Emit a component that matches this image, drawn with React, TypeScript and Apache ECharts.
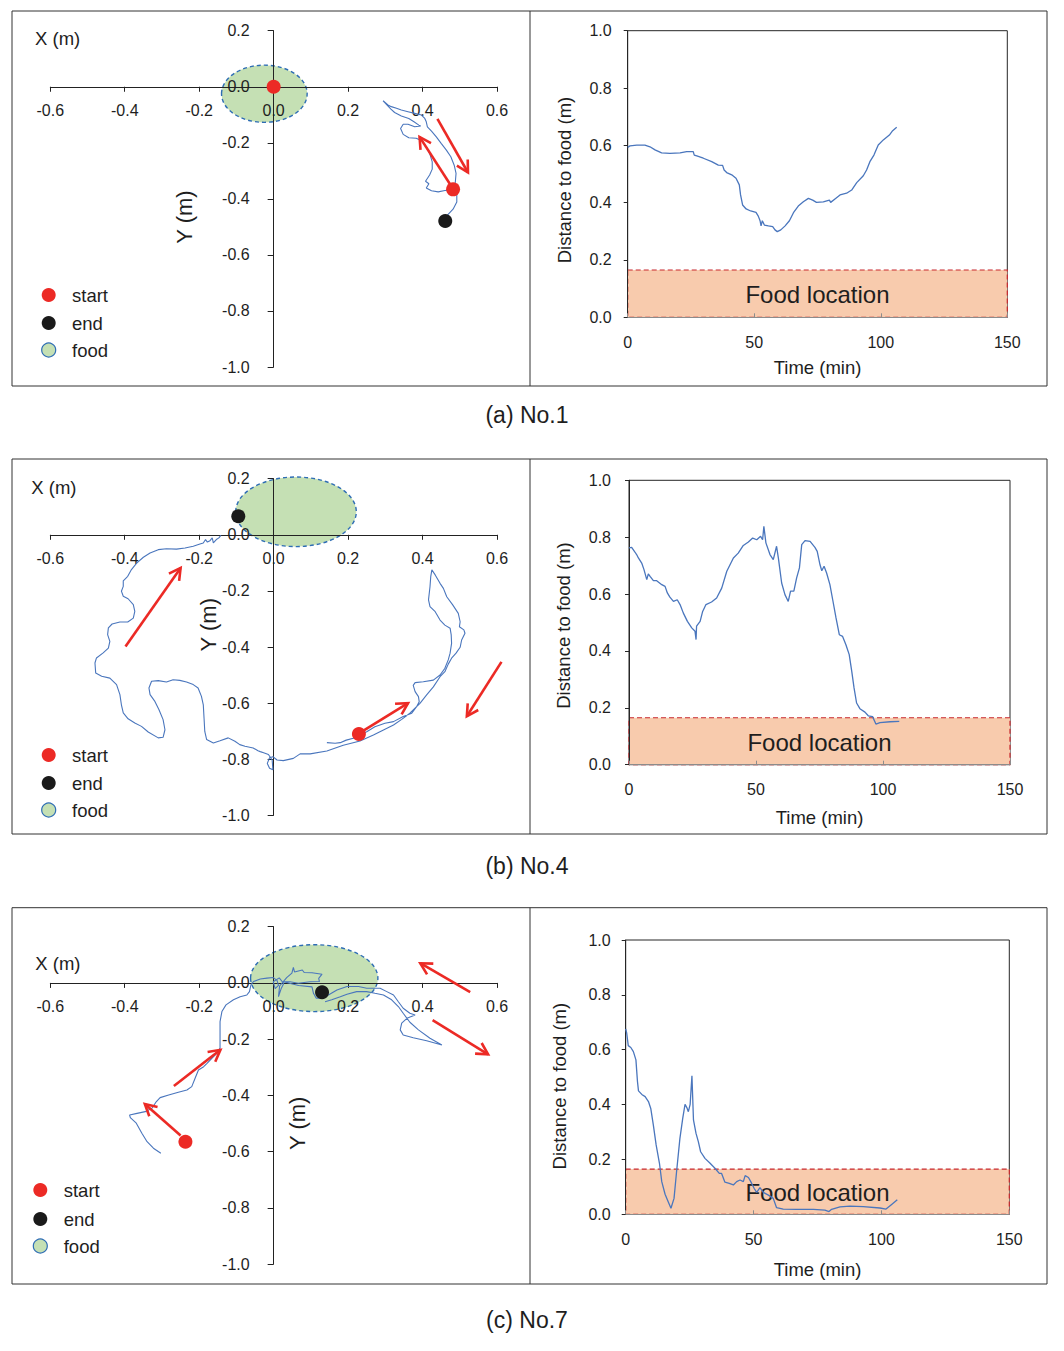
import React, { useEffect, useRef } from "react";
import * as echarts from "echarts";

// ---------- DATA (metres / minutes) ----------
// Panel (a) No.1 trajectory (X, Y in m)
const trackA: number[][] = [
  [0.482, -0.366], [0.488, -0.341], [0.49, -0.309], [0.485, -0.28], [0.476, -0.25], [0.464, -0.226],
  [0.45, -0.202], [0.437, -0.179], [0.424, -0.158], [0.413, -0.143], [0.41, -0.125], [0.406, -0.113],
  [0.397, -0.101], [0.379, -0.095], [0.361, -0.089], [0.343, -0.083], [0.33, -0.077], [0.316, -0.071],
  [0.307, -0.065], [0.294, -0.05], [0.315, -0.08], [0.325, -0.092], [0.343, -0.104], [0.363, -0.113],
  [0.377, -0.125], [0.39, -0.137], [0.395, -0.14], [0.379, -0.143], [0.361, -0.134], [0.348, -0.134],
  [0.341, -0.149], [0.348, -0.17], [0.363, -0.182], [0.383, -0.184], [0.399, -0.194], [0.41, -0.214],
  [0.419, -0.238], [0.426, -0.268], [0.426, -0.294], [0.419, -0.315], [0.408, -0.337], [0.417, -0.346],
  [0.41, -0.361], [0.424, -0.371], [0.442, -0.375], [0.46, -0.37], [0.476, -0.369], [0.492, -0.384],
  [0.492, -0.411], [0.482, -0.437], [0.468, -0.456], [0.461, -0.476],
];
const startA: number[][] = [[0, 0], [0.482, -0.366]];
const endA: number[][] = [[0.461, -0.479]];
const foodA: number[][] = [[-0.025, -0.025, 0.115, 0.102]]; // cx, cy, rx, ry
const arrowsA: number[][] = [
  [0.44, -0.115, 0.522, -0.306],
  [0.477, -0.354, 0.392, -0.179],
];
const distA: number[][] = [
  [0, 0.593], [0.9, 0.598], [3.6, 0.601], [6.8, 0.601], [8.8, 0.595], [10.8, 0.584], [13.4, 0.574],
  [16.7, 0.572], [20.7, 0.574], [23.3, 0.578], [25.9, 0.578], [26.3, 0.566], [27.3, 0.563], [29.9, 0.555],
  [33.2, 0.543], [35.8, 0.531], [37.5, 0.53], [38.1, 0.514], [39.1, 0.505], [41.1, 0.497], [42.8, 0.485],
  [44.1, 0.462], [44.6, 0.427], [45.4, 0.392], [46.8, 0.378], [48.6, 0.371], [50.7, 0.366], [51.6, 0.353],
  [52.3, 0.337], [52.7, 0.319], [53.2, 0.337], [54.0, 0.322], [55.6, 0.319], [57.3, 0.316], [58.2, 0.305],
  [59.1, 0.299], [60.5, 0.305], [62.2, 0.319], [63.9, 0.337], [65.5, 0.365], [67.4, 0.388], [69.4, 0.403],
  [71.4, 0.415], [73.1, 0.409], [74.6, 0.401], [77.3, 0.403], [79.7, 0.409], [80.2, 0.401], [81.9, 0.413],
  [83.9, 0.427], [86.5, 0.433], [88.5, 0.444], [90.5, 0.47], [93.1, 0.494], [94.4, 0.514], [95.7, 0.543],
  [97.3, 0.566], [99.0, 0.601], [101.0, 0.619], [103.4, 0.636], [104.7, 0.651], [106.3, 0.663],
];

// Panel (b) No.4
const trackB: number[][] = [
  [0.143, -0.741], [0.165, -0.743], [0.179, -0.741], [0.195, -0.732], [0.214, -0.725], [0.232, -0.714],
  [0.25, -0.702], [0.272, -0.684], [0.299, -0.672], [0.322, -0.666], [0.348, -0.648], [0.371, -0.636],
  [0.384, -0.613], [0.391, -0.595], [0.389, -0.577], [0.38, -0.559], [0.375, -0.537], [0.38, -0.527],
  [0.402, -0.524], [0.429, -0.518], [0.447, -0.5], [0.46, -0.476], [0.469, -0.446], [0.474, -0.422],
  [0.478, -0.387], [0.477, -0.357], [0.474, -0.333], [0.46, -0.322], [0.447, -0.304], [0.434, -0.274],
  [0.42, -0.256], [0.416, -0.232], [0.42, -0.185], [0.422, -0.149], [0.425, -0.125],
  [0.434, -0.143], [0.447, -0.173], [0.456, -0.191], [0.465, -0.221], [0.481, -0.25], [0.496, -0.28],
  [0.501, -0.31], [0.499, -0.328], [0.511, -0.339], [0.514, -0.351], [0.505, -0.375], [0.501, -0.401],
  [0.49, -0.422], [0.478, -0.44], [0.469, -0.461], [0.46, -0.488], [0.447, -0.506], [0.429, -0.542],
  [0.411, -0.571], [0.393, -0.601], [0.366, -0.636], [0.344, -0.658], [0.322, -0.678], [0.295, -0.696],
  [0.268, -0.714], [0.232, -0.735], [0.187, -0.75], [0.143, -0.771], [0.098, -0.781], [0.071, -0.781],
  [0.053, -0.797], [0.026, -0.805], [0.009, -0.803], [-0.002, -0.791], [-0.011, -0.795], [-0.017, -0.815],
  [-0.011, -0.832], [-0.002, -0.838], [-0.004, -0.803], [-0.014, -0.783], [-0.027, -0.777], [-0.036, -0.773],
  [-0.042, -0.77], [-0.055, -0.76], [-0.077, -0.754], [-0.091, -0.748], [-0.104, -0.736], [-0.122, -0.724],
  [-0.144, -0.734], [-0.162, -0.742], [-0.18, -0.73], [-0.185, -0.701], [-0.187, -0.653], [-0.189, -0.606],
  [-0.194, -0.576], [-0.203, -0.546], [-0.216, -0.534], [-0.234, -0.525], [-0.252, -0.519], [-0.27, -0.517],
  [-0.288, -0.525], [-0.31, -0.52], [-0.328, -0.522], [-0.335, -0.546], [-0.332, -0.57], [-0.319, -0.594],
  [-0.308, -0.624], [-0.297, -0.659], [-0.292, -0.695], [-0.297, -0.722], [-0.31, -0.724], [-0.337, -0.703],
  [-0.355, -0.683], [-0.373, -0.671], [-0.391, -0.656], [-0.404, -0.635], [-0.409, -0.606], [-0.413, -0.57],
  [-0.422, -0.534], [-0.44, -0.511], [-0.462, -0.504], [-0.478, -0.493], [-0.48, -0.457], [-0.476, -0.439],
  [-0.458, -0.421], [-0.444, -0.404], [-0.44, -0.38], [-0.446, -0.356], [-0.444, -0.332], [-0.434, -0.318],
  [-0.413, -0.311], [-0.392, -0.311], [-0.377, -0.297], [-0.373, -0.273], [-0.377, -0.249], [-0.391, -0.228],
  [-0.404, -0.219], [-0.409, -0.201], [-0.404, -0.184], [-0.404, -0.164], [-0.392, -0.148], [-0.382, -0.124],
  [-0.368, -0.101], [-0.35, -0.08], [-0.332, -0.065], [-0.31, -0.053], [-0.288, -0.05], [-0.261, -0.051],
  [-0.238, -0.047], [-0.216, -0.041], [-0.198, -0.033], [-0.189, -0.029], [-0.183, -0.017], [-0.178, -0.026],
  [-0.171, -0.021], [-0.165, -0.011], [-0.162, -0.029], [-0.154, -0.017], [-0.147, -0.011], [-0.142, -0.002],
];
const startB: number[][] = [[0.229, -0.71]];
const endB: number[][] = [[-0.095, 0.066]];
const foodB: number[][] = [[0.06, 0.082, 0.162, 0.124]];
const arrowsB: number[][] = [
  [-0.398, -0.398, -0.25, -0.118],
  [0.238, -0.701, 0.361, -0.6],
  [0.612, -0.453, 0.519, -0.647],
];
const distB: number[][] = [
  [0, 0.762], [1.05, 0.764], [2.4, 0.747], [3.0, 0.739], [3.7, 0.727], [5.0, 0.709], [5.9, 0.686],
  [7.0, 0.651], [7.6, 0.671], [8.3, 0.662], [9.6, 0.647], [10.9, 0.647], [12.9, 0.633], [14.2, 0.627],
  [15.1, 0.604], [16.1, 0.589], [17.5, 0.574], [19.0, 0.58], [20.1, 0.563], [21.4, 0.533], [23.0, 0.504],
  [24.7, 0.481], [26.0, 0.469], [26.4, 0.44], [26.6, 0.487], [28.0, 0.504], [29.0, 0.539], [30.3, 0.563],
  [32.5, 0.572], [34.5, 0.586], [36.5, 0.621], [38.5, 0.68], [41.1, 0.727], [43.0, 0.744], [45.0, 0.771],
  [47.0, 0.783], [48.7, 0.797], [50.3, 0.791], [51.8, 0.803], [52.6, 0.791], [53.1, 0.838], [53.9, 0.78],
  [55.5, 0.739], [56.8, 0.721], [58.1, 0.768], [58.8, 0.727], [60.1, 0.639], [61.4, 0.598], [62.7, 0.574],
  [63.6, 0.61], [64.9, 0.61], [66.0, 0.657], [67.1, 0.692], [68.0, 0.774], [69.3, 0.788], [71.3, 0.785],
  [73.2, 0.764], [74.1, 0.75], [75.2, 0.703], [75.9, 0.682], [76.8, 0.698], [77.8, 0.674], [79.1, 0.633],
  [80.2, 0.58], [81.5, 0.516], [82.8, 0.457], [84.1, 0.451], [85.4, 0.422], [86.7, 0.387], [87.7, 0.328],
  [88.6, 0.27], [89.6, 0.217], [90.9, 0.197], [92.9, 0.185], [94.2, 0.172], [95.9, 0.169], [97.2, 0.143],
  [98.8, 0.148], [102.8, 0.151], [106.4, 0.152],
];

// Panel (c) No.7
const trackC: number[][] = [
  [-0.303, -0.606], [-0.323, -0.588], [-0.34, -0.565], [-0.354, -0.535], [-0.369, -0.499], [-0.385, -0.479],
  [-0.387, -0.47], [-0.367, -0.464], [-0.345, -0.458], [-0.327, -0.446], [-0.315, -0.422], [-0.305, -0.408],
  [-0.282, -0.399], [-0.256, -0.389], [-0.233, -0.381], [-0.22, -0.369], [-0.211, -0.339], [-0.202, -0.31],
  [-0.188, -0.298], [-0.179, -0.286], [-0.166, -0.268], [-0.152, -0.25], [-0.144, -0.232], [-0.144, -0.185],
  [-0.144, -0.138], [-0.139, -0.102], [-0.128, -0.078], [-0.108, -0.06], [-0.09, -0.049], [-0.072, -0.043],
  [-0.065, -0.031], [-0.061, -0.007], [-0.054, 0.005], [-0.036, 0.014], [-0.018, 0.017], [-0.001, 0.019],
  [0.009, 0.009], [0.013, -0.009], [0.004, -0.02], [-0.001, 0.004], [0.015, 0.018], [0.027, -0.002],
  [0.02, -0.021], [0.013, -0.049], [0.016, -0.011], [0.035, 0.019], [0.049, 0.035], [0.053, 0.055],
  [0.056, 0.039], [0.077, 0.046], [0.082, 0.037], [0.103, 0.036], [0.13, 0.031], [0.121, 0.016],
  [0.123, 0.005], [0.098, 0.004], [0.066, -0.001], [0.044, 0.004], [0.026, 0.004], [0.067, -0.009],
  [0.103, -0.014], [0.107, -0.037], [0.114, -0.054], [0.129, -0.054], [0.147, -0.043], [0.17, -0.025],
  [0.197, -0.013], [0.228, -0.013], [0.25, -0.019], [0.286, -0.019], [0.304, -0.031], [0.322, -0.043],
  [0.335, -0.067], [0.348, -0.09], [0.366, -0.108], [0.38, -0.114], [0.358, -0.126], [0.344, -0.143],
  [0.34, -0.167], [0.348, -0.185], [0.375, -0.195], [0.411, -0.206], [0.452, -0.221], [0.42, -0.197],
  [0.389, -0.167], [0.366, -0.14], [0.348, -0.108], [0.335, -0.084], [0.317, -0.06], [0.295, -0.043],
  [0.272, -0.037], [0.25, -0.031], [0.223, -0.031], [0.197, -0.04], [0.179, -0.049], [0.156, -0.06],
  [0.138, -0.067],
];
const startC: number[][] = [[-0.237, -0.565]];
const endC: number[][] = [[0.13, -0.033]];
const foodC: number[][] = [[0.109, 0.017, 0.171, 0.119]];
const arrowsC: number[][] = [
  [0.528, -0.033, 0.394, 0.07],
  [0.427, -0.132, 0.576, -0.254],
  [-0.268, -0.367, -0.143, -0.238],
  [-0.25, -0.543, -0.346, -0.431],
];
const distC: number[][] = [
  [0, 0.676], [0.4, 0.66], [1.0, 0.615], [2.0, 0.608], [3.0, 0.593], [4.0, 0.563], [4.6, 0.484],
  [5.0, 0.45], [6.3, 0.437], [7.6, 0.429], [8.9, 0.411], [9.8, 0.386], [10.8, 0.326], [11.9, 0.253],
  [13.2, 0.186], [14.1, 0.119], [15.4, 0.073], [16.7, 0.044], [17.7, 0.022], [18.9, 0.058], [19.9, 0.156],
  [21.2, 0.277], [22.3, 0.35], [23.2, 0.401], [23.9, 0.389], [24.5, 0.374], [25.2, 0.401], [25.9, 0.505],
  [26.5, 0.344], [27.5, 0.295], [28.4, 0.265], [29.3, 0.228], [31.0, 0.204], [33.0, 0.186], [34.9, 0.168],
  [36.6, 0.149], [37.5, 0.149], [38.8, 0.117], [40.5, 0.113], [42.1, 0.107], [43.4, 0.119], [44.7, 0.125],
  [46.0, 0.119], [46.7, 0.141], [48.0, 0.134], [48.9, 0.119], [50.2, 0.095], [51.2, 0.08], [52.5, 0.097],
  [53.8, 0.08], [55.8, 0.07], [57.7, 0.058], [59.0, 0.024], [61.6, 0.019], [66.9, 0.018], [73.4, 0.018],
  [77.9, 0.015], [79.5, 0.01], [80.5, 0.018], [83.8, 0.027], [87.7, 0.03], [92.9, 0.028], [99.4, 0.023],
  [101.8, 0.019], [104.0, 0.036], [106.2, 0.053],
];

// Food location zone on the distance plots: [t0, d0, t1, d1]
const foodZone: number[][] = [[0, 0, 150, 0.165]];

const captions = ["(a) No.1", "(b) No.4", "(c) No.7"];
const legendNames = ["start", "end", "food"];

// axis ranges of the trajectory panels
const X_MIN = -0.6, X_MAX = 0.6;
const Y_MIN = -1.0, Y_MAX = 0.2;

// ---------- STYLE / LAYOUT ----------
const FONT = "Liberation Sans, Arial, Helvetica, sans-serif";
const TXT = "#1e1e1e";
const BLUE = "#4a76bd";
const RED = "#ec2a25";
const BLACK = "#1a1a1a";
const GREEN = "#c5e0b4";
const FOOD_EDGE = "#2e6db4";
const TICK_FS = 16;

const rows = [
  {
    track: trackA, starts: startA, ends: endA, food: foodA, arrows: arrowsA, dist: distA,
    box: [12, 11, 1035, 375], L: [50.3, 30.7, 446.7, 336.3], R: [627.7, 30.7, 379.6, 286.6],
    cap: 415, xl: [35, 38.5], yl: [184, 217], lg: { x: 48.7, ys: [295, 323, 350], tx: 72 },
    distGap: 54, distShift: 12, timeGap: 41, yMargin: 16, xMargin: 17,
  },
  {
    track: trackB, starts: startB, ends: endB, food: foodB, arrows: arrowsB, dist: distB,
    box: [12, 459, 1035, 375], L: [50.3, 478.7, 446.7, 336.6], R: [629, 480.3, 381, 284.4],
    cap: 866, xl: [31.3, 487.5], yl: [208.7, 624.7], lg: { x: 48.7, ys: [755, 783, 810], tx: 72 },
    distGap: 56, distShift: 6, timeGap: 43, yMargin: 18, xMargin: 17,
  },
  {
    track: trackC, starts: startC, ends: endC, food: foodC, arrows: arrowsC, dist: distC,
    box: [12, 907.7, 1035, 376.3], L: [50.3, 926.7, 446.7, 337.3], R: [625.7, 940, 383.6, 274.3],
    cap: 1320, xl: [35.3, 963.5], yl: [297, 1123.3], lg: { x: 40.3, ys: [1190, 1219, 1246], tx: 63.7 },
    distGap: 57, distShift: 18, timeGap: 46, yMargin: 15, xMargin: 17,
  },
];

const fmt1 = (v: number) => (Math.abs(v) < 1e-9 ? 0 : v).toFixed(1);

function ellipseItem(params: any, api: any) {
  const c = api.coord([api.value(0), api.value(1)]);
  const s = api.size([api.value(2), api.value(3)]);
  return {
    type: "ellipse",
    shape: { cx: c[0], cy: c[1], rx: s[0], ry: s[1] },
    style: { fill: GREEN, stroke: FOOD_EDGE, lineWidth: 1.4, lineDash: [4, 3] },
  };
}

function arrowItem(params: any, api: any) {
  const p1 = api.coord([api.value(0), api.value(1)]);
  const p2 = api.coord([api.value(2), api.value(3)]);
  const ang = Math.atan2(p2[1] - p1[1], p2[0] - p1[0]);
  const L = 13;
  const a = 0.5;
  const h1 = [p2[0] - L * Math.cos(ang - a), p2[1] - L * Math.sin(ang - a)];
  const h2 = [p2[0] - L * Math.cos(ang + a), p2[1] - L * Math.sin(ang + a)];
  return {
    type: "group",
    children: [
      { type: "line", shape: { x1: p1[0], y1: p1[1], x2: p2[0], y2: p2[1] }, style: { stroke: RED, lineWidth: 2.6 } },
      { type: "polyline", shape: { points: [h1, p2, h2] }, style: { stroke: RED, lineWidth: 2.6, fill: "none" } },
    ],
  };
}

function zoneItem(params: any, api: any) {
  const p1 = api.coord([api.value(0), api.value(3)]);
  const p2 = api.coord([api.value(2), api.value(1)]);
  return {
    type: "group",
    children: [
      {
        type: "rect",
        shape: { x: p1[0], y: p1[1], width: p2[0] - p1[0], height: p2[1] - p1[1] },
        style: { fill: "#f8cbad", stroke: "#c8282e", lineWidth: 1.2, lineDash: [5, 3] },
      },
      {
        type: "text",
        x: (p1[0] + p2[0]) / 2,
        y: (p1[1] + p2[1]) / 2 + 1,
        style: { text: "Food location", fontSize: 24, fontFamily: FONT, fill: TXT, align: "center", verticalAlign: "middle" },
      },
    ],
  };
}

function buildOption() {
  const grid: any[] = [];
  const xAxis: any[] = [];
  const yAxis: any[] = [];
  const series: any[] = [];
  const graphic: any[] = [];

  rows.forEach((r, i) => {
    const gl = 2 * i;
    const gr = 2 * i + 1;
    grid.push({ left: r.L[0], top: r.L[1], width: r.L[2], height: r.L[3], containLabel: false });
    grid.push({
      left: r.R[0], top: r.R[1], width: r.R[2], height: r.R[3], containLabel: false,
      show: true, borderColor: "#262626", borderWidth: 1, backgroundColor: "transparent",
    });

    // the trajectory axes cross at the origin: shift them (with their labels) from the grid edge to zero
    const xOffset = -r.L[3] * (0 - Y_MIN) / (Y_MAX - Y_MIN);
    const yOffset = -r.L[2] * (0 - X_MIN) / (X_MAX - X_MIN);

    xAxis.push({
      gridIndex: gl, type: "value", min: X_MIN, max: X_MAX, interval: 0.2, z: 2,
      position: "bottom", offset: xOffset,
      axisLine: { onZero: false, lineStyle: { color: "#222", width: 1 } },
      axisTick: { show: true, inside: false, length: 5, lineStyle: { color: "#222" } },
      axisLabel: { margin: 16, fontSize: TICK_FS, color: TXT, fontFamily: FONT, formatter: fmt1 },
      splitLine: { show: false },
    });
    yAxis.push({
      gridIndex: gl, type: "value", min: Y_MIN, max: Y_MAX, interval: 0.2, z: 2,
      position: "left", offset: yOffset,
      axisLine: { onZero: false, lineStyle: { color: "#222", width: 1 } },
      axisTick: { show: true, inside: false, length: 6, lineStyle: { color: "#222" } },
      axisLabel: { margin: 24, fontSize: TICK_FS, color: TXT, fontFamily: FONT, formatter: fmt1 },
      splitLine: { show: false },
    });
    // right (distance) axes
    xAxis.push({
      gridIndex: gr, type: "value", min: 0, max: 150, interval: 50, z: 2,
      name: "Time (min)", nameLocation: "middle", nameGap: r.timeGap,
      nameTextStyle: { fontSize: 18.5, color: TXT, fontFamily: FONT },
      axisLine: { onZero: false, lineStyle: { color: "#8c8c8c", width: 1 } },
      axisTick: { show: true, inside: true, length: 4, lineStyle: { color: "#8c8c8c" } },
      axisLabel: { margin: r.xMargin, fontSize: TICK_FS, color: TXT, fontFamily: FONT },
      splitLine: { show: false },
    });
    yAxis.push({
      gridIndex: gr, type: "value", min: 0, max: 1.0, interval: 0.2, z: 2,
      name: "Distance to food (m)", nameLocation: "middle", nameGap: r.distGap, nameRotate: 90,
      nameTextStyle: { fontSize: 18.5, color: TXT, fontFamily: FONT, padding: [0, r.distShift, 0, 0] },
      axisLine: { show: true, onZero: false, lineStyle: { color: "#262626", width: 1 } },
      axisTick: { show: true, inside: false, length: 4, lineStyle: { color: "#262626" } },
      axisLabel: { margin: r.yMargin, fontSize: TICK_FS, color: TXT, fontFamily: FONT, formatter: fmt1 },
      splitLine: { show: false },
    });

    series.push({
      name: "food", type: "custom", xAxisIndex: gl, yAxisIndex: gl, z: 1, silent: true,
      renderItem: ellipseItem, data: r.food, encode: { x: 0, y: 1 },
    });
    series.push({
      name: "trajectory", type: "line", xAxisIndex: gl, yAxisIndex: gl, z: 3, silent: true,
      data: r.track, showSymbol: false, symbol: "none", smooth: false,
      lineStyle: { color: BLUE, width: 1.1 },
    });
    series.push({
      name: "arrows", type: "custom", xAxisIndex: gl, yAxisIndex: gl, z: 4, silent: true,
      renderItem: arrowItem, data: r.arrows, encode: { x: [0, 2], y: [1, 3] },
    });
    series.push({
      name: "start", type: "scatter", xAxisIndex: gl, yAxisIndex: gl, z: 5, silent: true,
      data: r.starts, symbol: "circle", symbolSize: 14, itemStyle: { color: RED, opacity: 1 },
    });
    series.push({
      name: "end", type: "scatter", xAxisIndex: gl, yAxisIndex: gl, z: 5, silent: true,
      data: r.ends, symbol: "circle", symbolSize: 14, itemStyle: { color: BLACK, opacity: 1 },
    });

    series.push({
      name: "Food location", type: "custom", xAxisIndex: gr, yAxisIndex: gr, z: 1, silent: true,
      renderItem: zoneItem, data: foodZone, encode: { x: [0, 2], y: [1, 3] },
    });
    series.push({
      name: "distance", type: "line", xAxisIndex: gr, yAxisIndex: gr, z: 3, silent: true,
      data: r.dist, showSymbol: false, symbol: "none",
      lineStyle: { color: BLUE, width: 1.3 },
    });

    // frames
    graphic.push({
      type: "rect", shape: { x: r.box[0], y: r.box[1], width: r.box[2], height: r.box[3] },
      style: { fill: "none", stroke: "#333", lineWidth: 1 }, silent: true,
    });
    graphic.push({
      type: "line", shape: { x1: 530, y1: r.box[1], x2: 530, y2: r.box[1] + r.box[3] },
      style: { stroke: "#333", lineWidth: 1 }, silent: true,
    });
    graphic.push({
      type: "text", x: 527, y: r.cap,
      style: { text: captions[i], fontSize: 23, fontFamily: FONT, fill: TXT, align: "center", verticalAlign: "middle" },
    });
    graphic.push({
      type: "text", x: r.xl[0], y: r.xl[1],
      style: { text: "X (m)", fontSize: 18.5, fontFamily: FONT, fill: TXT, align: "left", verticalAlign: "middle" },
    });
    graphic.push({
      type: "text", x: r.yl[0], y: r.yl[1], rotation: Math.PI / 2,
      style: { text: "Y (m)", fontSize: 22, fontFamily: FONT, fill: TXT, align: "center", verticalAlign: "middle" },
    });
    // legend
    const fills = [RED, BLACK, GREEN];
    legendNames.forEach((nm, k) => {
      graphic.push({
        type: "circle", shape: { cx: r.lg.x, cy: r.lg.ys[k], r: 7 },
        style: k === 2 ? { fill: fills[k], stroke: FOOD_EDGE, lineWidth: 1.2 } : { fill: fills[k] },
        silent: true,
      });
      graphic.push({
        type: "text", x: r.lg.tx, y: r.lg.ys[k],
        style: { text: nm, fontSize: 18.5, fontFamily: FONT, fill: TXT, align: "left", verticalAlign: "middle" },
      });
    });
  });

  return {
    animation: false,
    backgroundColor: "#ffffff",
    textStyle: { fontFamily: FONT },
    grid,
    xAxis,
    yAxis,
    series,
    graphic: { elements: graphic },
  };
}

export default function App() {
  const ref = useRef<HTMLDivElement>(null);
  useEffect(() => {
    if (!ref.current) return;
    const chart = echarts.init(ref.current, undefined, { renderer: "svg" });
    chart.setOption(buildOption() as any);
    return () => chart.dispose();
  }, []);
  return (
    <div
      ref={ref}
      style={{ position: "absolute", left: 0, top: 0, width: 1064, height: 1351, background: "#fff" }}
    />
  );
}
